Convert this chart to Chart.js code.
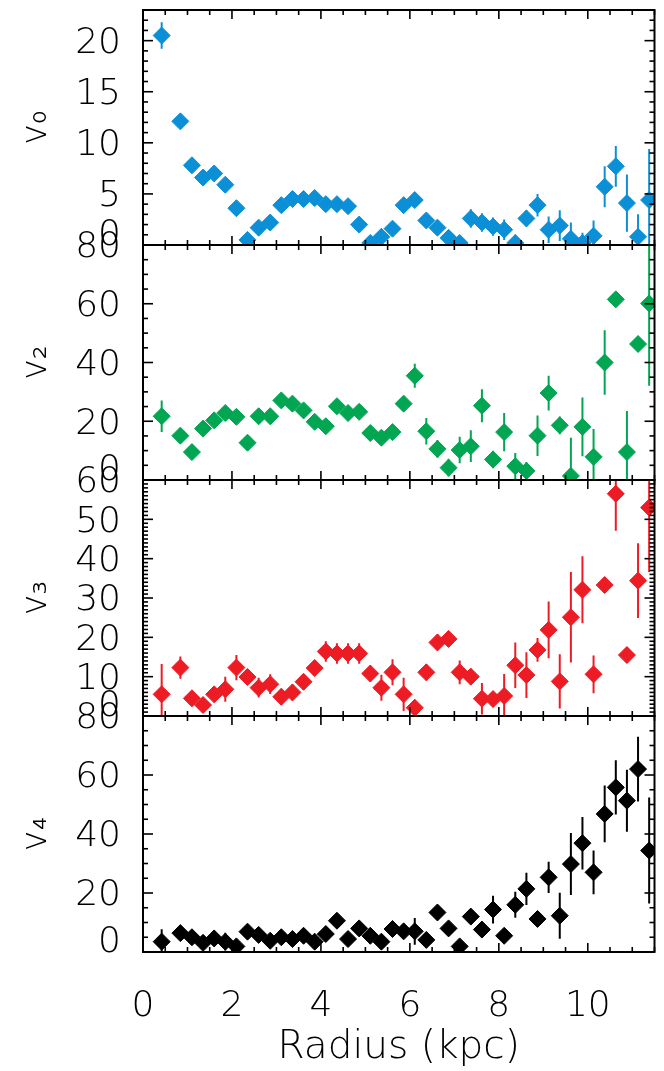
<!DOCTYPE html>
<html lang="en">
<head>
<meta charset="UTF-8">
<title>Harmonic terms vs radius</title>
<script src="https://cdn.jsdelivr.net/npm/chart.js"></script>
<style>
  body { margin: 0; background: #fff; }
  #wrap { position: relative; width: 664px; height: 1071px; overflow: hidden; }
  #wrap canvas { position: absolute; left: 0; }
</style>
</head>
<body>
<div id="wrap">
  <canvas id="p0" width="664" height="335" style="top:-40px"></canvas>
  <canvas id="p2" width="664" height="335" style="top:195px"></canvas>
  <canvas id="p3" width="664" height="336" style="top:430px"></canvas>
  <canvas id="p4" width="664" height="405" style="top:666px"></canvas>
</div>
<script>
// radius of each ring (kpc)
const radius = [0.42, 0.84, 1.10, 1.35, 1.60, 1.85, 2.10, 2.35, 2.60, 2.86, 3.11, 3.36, 3.61, 3.86, 4.11,
  4.36, 4.61, 4.86, 5.11, 5.36, 5.61, 5.86, 6.11, 6.37, 6.62, 6.87, 7.12, 7.37, 7.62, 7.87, 8.12, 8.37,
  8.62, 8.87, 9.12, 9.37, 9.62, 9.88, 10.13, 10.38, 10.63, 10.88, 11.13, 11.38];

const v0 = [20.5, 12.1, 7.8, 6.6, 7.0, 5.9, 3.6, 0.5, 1.7, 2.2, 3.9, 4.5, 4.5, 4.6, 4.0, 4.0, 3.8, 2.0,
  0.2, 0.8, 1.6, 3.9, 4.4, 2.4, 1.7, 0.7, 0.2, 2.6, 2.2, 1.8, 1.5, 0.2, 2.6, 3.9, 1.5, 1.9, 0.6, 0.2,
  0.9, 5.7, 7.7, 4.1, 0.8, 4.4];
const v0Err = [1.3, 0.4, 0.4, 0.4, 0.4, 0.4, 0.4, 0.5, 0.5, 0.5, 0.5, 0.5, 0.5, 0.5, 0.5, 0.5, 0.5, 0.5,
  0.5, 0.5, 0.6, 0.6, 0.6, 0.6, 0.6, 0.7, 0.7, 0.9, 0.9, 0.9, 1.0, 0.8, 0.8, 1.1, 1.3, 1.5, 1.6, 1.0,
  1.5, 2.0, 2.0, 2.8, 2.2, 5.0];

const v2 = [21.7, 15.1, 9.5, 17.5, 20.3, 22.8, 21.5, 12.7, 21.7, 21.7, 27.1, 26.0, 23.7, 19.8, 18.3,
  25.1, 22.8, 23.2, 16.0, 14.4, 16.3, 26.0, 35.5, 16.6, 10.6, 4.2, 10.2, 11.5, 25.3, 7.0, 16.3, 4.7,
  3.1, 15.1, 29.6, 18.6, 1.4, 18.1, 7.9, 40.0, 61.5, 9.5, 46.3, 60.1];
const v2Err = [5.4, 2, 2, 2, 2, 2, 2, 2, 2, 2, 2, 2, 2, 2, 2, 2, 2, 2, 2.5, 2.5, 2.5, 2.5, 4.1, 4.5,
  3, 3, 4.5, 5.4, 5.6, 3, 6.5, 4.5, 3, 6.9, 5.9, 3, 13, 10, 9.5, 11, 2, 14, 2.5, 28];

const v3 = [5.5, 12.3, 4.5, 2.8, 5.5, 6.8, 12.3, 9.9, 7.2, 8.1, 4.9, 6.0, 8.7, 12.2, 16.4, 15.9, 15.9,
  15.9, 10.8, 7.2, 11.1, 5.5, 2.1, 11.1, 18.7, 19.6, 11.1, 10.0, 4.4, 4.3, 5.1, 12.9, 10.4, 16.8, 21.9,
  8.8, 25.1, 32.1, 10.6, 33.3, 56.5, 15.5, 34.4, 53.0];
const v3Err = [7.7, 2.8, 1.5, 1.5, 1.5, 3.2, 3.2, 2, 2.5, 2.5, 2, 2, 2, 2, 2.6, 2.6, 2.6, 2.6, 2, 3.3,
  3.3, 4.2, 2, 2, 2, 2, 3, 2, 4, 2, 5.6, 5.8, 5.8, 3, 7.2, 6.9, 11.5, 8.5, 4.8, 2, 9.4, 2, 9.5, 16.4];

const v4 = [3.5, 6.4, 5.0, 3.1, 4.6, 3.5, 1.9, 6.9, 5.8, 3.8, 5.0, 4.4, 5.5, 3.5, 6.1, 10.6, 4.4, 8.0,
  5.5, 3.5, 7.8, 7.0, 7.0, 4.1, 13.4, 8.0, 1.9, 12.0, 7.6, 14.4, 5.5, 16.0, 21.4, 11.2, 25.3, 12.3,
  29.8, 36.9, 27.0, 46.8, 55.8, 51.3, 62.0, 34.4];
const v4Err = [4.2, 2, 2, 2, 2, 3, 2, 2, 2, 2, 2, 2, 2, 2, 2, 2, 2, 2, 2, 2, 2, 2, 4.5, 2, 2, 2, 2, 2,
  2, 4.7, 2, 4.4, 5.5, 2, 5.3, 7.8, 10.5, 8.9, 7.4, 9.6, 9.2, 10.5, 11, 18];

// tick labels
const xTicks = [0, 2, 4, 6, 8, 10];
const v0Ticks = [0, 5, 10, 15, 20];
const v2Ticks = [0, 20, 40, 60, 80];
const v3Ticks = [0, 10, 20, 30, 40, 50, 60];
const v4Ticks = [0, 20, 40, 60, 80];

Chart.defaults.font.family = '"DejaVu Sans", sans-serif';
Chart.defaults.font.weight = 200;
Chart.defaults.color = '#000';

// vertical error bars, drawn through the chart scales
const errorBars = {
  id: 'errorBars',
  beforeDatasetsDraw(chart) {
    const {ctx, chartArea: a} = chart;
    const x = chart.scales.x, y = chart.scales.y;
    const ds = chart.data.datasets[0];
    ctx.save();
    ctx.beginPath();
    ctx.rect(a.left, a.top, a.right - a.left, a.bottom - a.top);
    ctx.clip();
    ctx.strokeStyle = ds.backgroundColor;
    ctx.lineWidth = 2;
    ds.data.forEach((p, i) => {
      const e = ds.errors[i];
      const px = x.getPixelForValue(p.x);
      ctx.beginPath();
      ctx.moveTo(px, y.getPixelForValue(p.y - e));
      ctx.lineTo(px, y.getPixelForValue(p.y + e));
      ctx.stroke();
    });
    ctx.restore();
  }
};

// box frame with inward major/minor ticks on all sides
const frame = {
  id: 'frame',
  afterDatasetsDraw(chart, args, opts) {
    const {ctx, chartArea: a} = chart;
    const x = chart.scales.x, y = chart.scales.y;
    const seg = (x1, y1, x2, y2) => { ctx.beginPath(); ctx.moveTo(x1, y1); ctx.lineTo(x2, y2); ctx.stroke(); };
    const isMajor = (v, list) => list.some(m => Math.abs(m - v) < 1e-6);
    ctx.save();
    ctx.strokeStyle = '#000';
    ctx.lineWidth = 1.6;
    for (let k = 0; k * opts.xMinor <= x.max + 1e-9; k++) {
      const v = k * opts.xMinor, px = x.getPixelForValue(v);
      const len = isMajor(v, xTicks) ? 9 : 5;
      seg(px, a.bottom, px, a.bottom - len);
      seg(px, a.top, px, a.top + len);
    }
    for (let k = 0; k * opts.yMinor <= y.max + 1e-9; k++) {
      const v = k * opts.yMinor, py = y.getPixelForValue(v);
      const len = isMajor(v, opts.yMajor) ? 10 : 5;
      seg(a.left, py, a.left + len, py);
      seg(a.right, py, a.right - len, py);
    }
    ctx.lineWidth = 2;
    ctx.strokeRect(a.left, a.top, a.right - a.left, a.bottom - a.top);
    ctx.restore();
  }
};

function makePanel(id, vals, errs, color, yTicks, yMax, yMinor, title, isBottom) {
  const xScale = {
    type: 'linear', min: 0, max: 11.5,
    afterBuildTicks: s => { s.ticks = xTicks.map(v => ({value: v})); }
  };
  if (isBottom) {
    Object.assign(xScale, {
      afterFit: s => { s.height = 119; },
      grid: {display: false},
      border: {display: false},
      ticks: {padding: 25, autoSkip: false, maxRotation: 0, font: {size: 36, lineHeight: 1.2}},
      title: {display: true, text: 'Radius (kpc)', font: {size: 39, lineHeight: 1.2}, padding: {top: 0, bottom: 0}}
    });
  } else {
    xScale.display = false;
  }

  new Chart(document.getElementById(id), {
    type: 'scatter',
    data: {
      datasets: [{
        data: radius.map((r, i) => ({x: r, y: vals[i]})),
        errors: errs,
        backgroundColor: color,
        borderColor: color,
        pointStyle: 'rectRot',
        pointRadius: 8.5,
        pointBorderWidth: 1,
        clip: 0
      }]
    },
    options: {
      responsive: false,
      animation: false,
      events: [],
      layout: {padding: {left: 0, right: 7, top: 50, bottom: isBottom ? 0 : 50}},
      plugins: {
        legend: {display: false},
        tooltip: {enabled: false},
        frame: {xMinor: 0.5, yMinor: yMinor, yMajor: yTicks}
      },
      scales: {
        x: xScale,
        y: {
          type: 'linear', position: 'left', min: 0, max: yMax,
          afterBuildTicks: s => { s.ticks = yTicks.map(v => ({value: v})); },
          afterFit: s => { s.width = 143; },
          grid: {display: false},
          border: {display: false},
          ticks: {
            padding: 14, autoSkip: false, labelOffset: 3,
            font: {size: 36, lineHeight: 0.7},
            callback: v => v === 0 ? ['0', ''] : String(v)
          },
          title: {display: true, text: title, font: {size: 35, lineHeight: 1}, padding: {top: 19, bottom: 0}}
        }
      }
    },
    plugins: [errorBars, frame]
  });
}

function drawAll() {
  makePanel('p0', v0, v0Err, '#0b8fd6', v0Ticks, 23, 1, 'v₀', false);
  makePanel('p2', v2, v2Err, '#00a651', v2Ticks, 80, 5, 'v₂', false);
  makePanel('p3', v3, v3Err, '#ed1c24', v3Ticks, 60, 1, 'v₃', false);
  makePanel('p4', v4, v4Err, '#000000', v4Ticks, 80, 5, 'v₄', true);
}

if (document.fonts && document.fonts.load) {
  document.fonts.load('200 36px "DejaVu Sans"').then(drawAll, drawAll);
} else {
  drawAll();
}
</script>
</body>
</html>
